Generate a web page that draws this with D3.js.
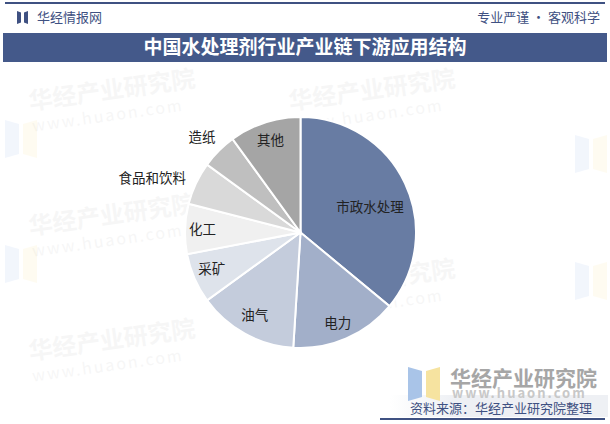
<!DOCTYPE html>
<html><head><meta charset="utf-8">
<script src="https://cdn.jsdelivr.net/npm/d3@7/dist/d3.min.js"></script>
<style>body{margin:0;background:#fff;}svg{display:block;font-family:"Noto Sans CJK SC","Microsoft YaHei",sans-serif;}</style>
</head><body>
<svg id="c" width="610" height="424"></svg>
<script>
const categories = ["市政水处理","电力","油气","采矿","化工","食品和饮料","造纸","其他"];
const values = [36,15,14,7,7,6,5,10];
const colors = ["#687ca3","#a2afc9","#c4ccdc","#dee3eb","#f0f0f0","#d9d9d9","#bfbfbf","#a5a5a5"];
const title = "中国水处理剂行业产业链下游应用结构";

const svg = d3.select("#c");
svg.append("rect").attr("x",5).attr("y",2).attr("width",600).attr("height",2).attr("fill","#3f5182");
const icon = svg.append("g").attr("transform","translate(17,11)");
icon.append("path").attr("d","M0,0 L4,1.5 L4,11.5 L0,13 Z").attr("fill","#3f5182");
icon.append("path").attr("d","M11,0 L7,1.5 L7,11.5 L11,13 Z").attr("fill","#3f5182");
svg.append("text").attr("x",37).attr("y",22).attr("font-size",13).attr("fill","#3f5182").text("华经情报网");
svg.append("text").attr("x",600).attr("y",22).attr("text-anchor","end").attr("font-size",13).attr("fill","#3f5182").text("专业严谨 • 客观科学");
svg.append("rect").attr("x",3).attr("y",33).attr("width",604).attr("height",29).attr("fill","#44598a");
svg.append("text").attr("x",305).attr("y",54).attr("text-anchor","middle").attr("font-size",19).attr("font-weight","bold").attr("fill","#fff").text(title);

// watermarks
const wm = [[30,110],[30,235],[30,360],[290,110],[290,300]];
wm.forEach(([x,y])=>{
  const g = svg.append("g").attr("transform",`translate(${x},${y}) rotate(-8)`).attr("opacity",0.045);
  g.append("text").attr("font-size",24).attr("font-weight","bold").attr("fill","#444").text("华经产业研究院");
  g.append("text").attr("y",22).attr("font-size",16).attr("fill","#444").attr("letter-spacing",2).text("www.huaon.com");
});
[[575,135],[575,262],[5,120],[5,245]].forEach(([x,y])=>{
  svg.append("path").attr("d",`M${x},${y} L${x+14},${y+4} L${x+14},${y+34} L${x},${y+38} Z`).attr("fill","#a9c4e8").attr("opacity",0.15);
  svg.append("path").attr("d",`M${x+32},${y} L${x+18},${y+4} L${x+18},${y+34} L${x+32},${y+38} Z`).attr("fill","#f6e3a0").attr("opacity",0.15);
});

// pie
const cx = 300.5, cy = 232.5, R = 115.5;
const pie = d3.pie().sort(null).value(d=>d)(values);
const arc = d3.arc().innerRadius(0).outerRadius(R);
const g = svg.append("g").attr("transform",`translate(${cx},${cy})`);
g.selectAll("path").data(pie).join("path")
  .attr("d",arc).attr("fill",(d,i)=>colors[i]).attr("stroke","#fff").attr("stroke-width",2);

const labelR = [74,98,95,96,98,158,137,97];
const angAdj = [5,1,0,1,0,-5,-1,0];
g.selectAll("text.lbl").data(pie).join("text").attr("class","lbl")
  .attr("transform",(d,i)=>{
    const a = (d.startAngle+d.endAngle)/2 + angAdj[i]*Math.PI/180;
    return `translate(${labelR[i]*Math.sin(a)},${-labelR[i]*Math.cos(a)})`;
  })
  .attr("text-anchor","middle").attr("dy","0.35em").attr("font-size",13.5).attr("fill","#222")
  .text((d,i)=>categories[i]);

// bottom logo & source
const band = svg.append("defs").append("linearGradient").attr("id","bg");
band.append("stop").attr("offset","0").attr("stop-color","#fff");
band.append("stop").attr("offset","0.3").attr("stop-color","#eef0f4");
band.append("stop").attr("offset","1").attr("stop-color","#eef0f4");
svg.append("rect").attr("x",390).attr("y",395).attr("width",218).attr("height",22).attr("fill","url(#bg)");
svg.append("path").attr("d","M408,367 L422,371 L422,397 L408,401 Z").attr("fill","#a9c4e8");
svg.append("path").attr("d","M440,367 L426,371 L426,397 L440,401 Z").attr("fill","#f6e3a0");
svg.append("text").attr("x",450).attr("y",386).attr("font-size",21).attr("font-weight","bold").attr("fill","#a6a6a6").text("华经产业研究院");
svg.append("text").attr("x",452).attr("y",398).attr("font-size",13).attr("font-weight","bold").attr("fill","#c8c8c8").attr("letter-spacing",2).text("www.huaon.com");
svg.append("text").attr("x",592).attr("y",413).attr("text-anchor","end").attr("font-size",13).attr("fill","#3f5182").text("资料来源：华经产业研究院整理");
svg.append("rect").attr("x",380).attr("y",418).attr("width",225).attr("height",2).attr("fill","#3f5182");
</script>
</body></html>
